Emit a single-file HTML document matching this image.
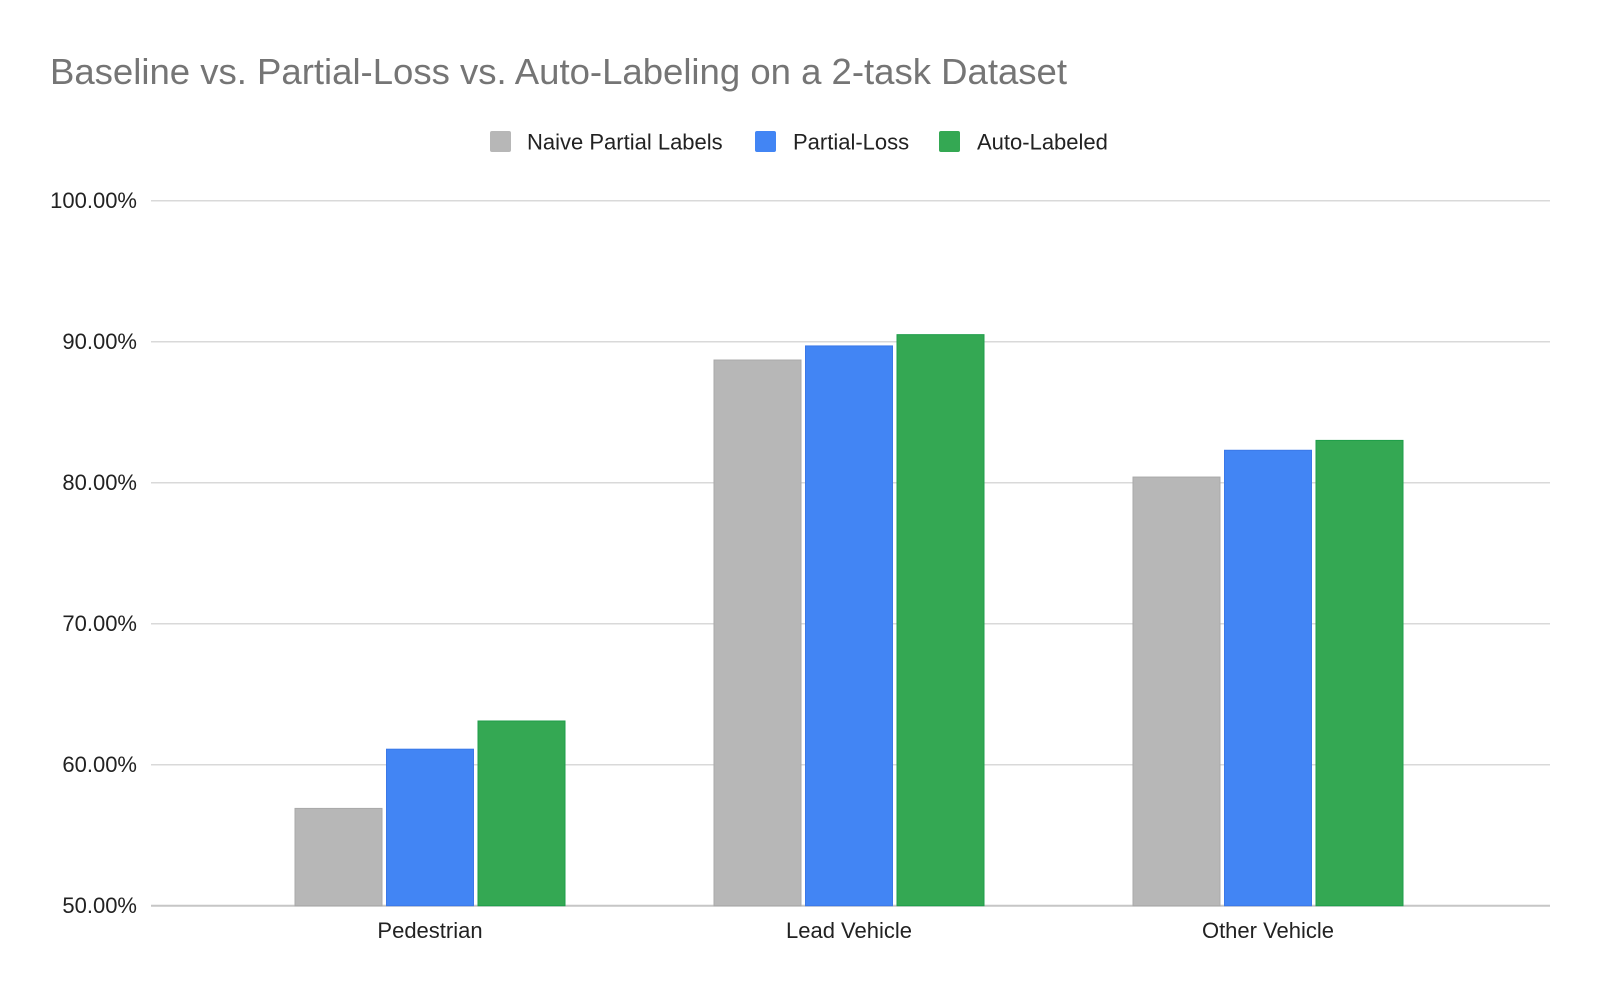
<!DOCTYPE html>
<html><head><meta charset="utf-8"><style>
html,body{margin:0;padding:0;background:#fff;width:1600px;height:993px;overflow:hidden}
svg text{font-family:"Liberation Sans",Arial,sans-serif}
</style></head><body>
<svg id="chart" width="1600" height="993" xmlns="http://www.w3.org/2000/svg">
<text x="50" y="84" font-size="36" textLength="1017" lengthAdjust="spacingAndGlyphs" fill="#757575">Baseline vs. Partial-Loss vs. Auto-Labeling on a 2-task Dataset</text>
<g id="legend"></g>
<g id="grid"></g>
<g id="bars"></g>
<g id="xlabels"></g>
</svg>
<script>
const categories = ["Pedestrian","Lead Vehicle","Other Vehicle"];
const seriesNames = ["Naive Partial Labels","Partial-Loss","Auto-Labeled"];
const naive = [56.9, 88.7, 80.4];
const partialLoss = [61.1, 89.7, 82.3];
const autoLabeled = [63.1, 90.5, 83.0];
const yTicks = [50,60,70,80,90,100];
const yTickLabels = ["50.00%","60.00%","70.00%","80.00%","90.00%","100.00%"];

const NS="http://www.w3.org/2000/svg";
const colors=["#b7b7b7","#4285f4","#34a853"];
const strokes=["#a9a9a9","#3b78e7","#1e9e4a"];
const series=[naive,partialLoss,autoLabeled];
const plotL=151, plotR=1550, yTop=200.7, yBot=905.7, vMin=50, vMax=100;
function y(v){return yBot-(v-vMin)/(vMax-vMin)*(yBot-yTop);}
function xCenter(i){return 430+419*i;}
const barW=87, pitch=91.5;
function mk(tag,attrs,parent){const e=document.createElementNS(NS,tag);for(const k in attrs)e.setAttribute(k,attrs[k]);parent.appendChild(e);return e;}

const grid=document.getElementById('grid');
yTicks.forEach((t,i)=>{
  const l=mk('line',{x1:plotL,x2:plotR,y1:y(t),y2:y(t),stroke:i===0?'#c6c6c6':'#d9d9d9','stroke-width':i===0?2:1.5},grid);
  
  
  const tx=mk('text',{x:137,y:y(t)+7.5,'text-anchor':'end','font-size':22,fill:'#222'},grid);
  tx.textContent=yTickLabels[i];
  
  
});

const bars=document.getElementById('bars');
categories.forEach((c,ci)=>{
  series.forEach((s,si)=>{
    const cx=xCenter(ci)+(si-1)*pitch;
    const r=mk('rect',{x:cx-barW/2,y:y(s[ci]),width:barW,height:yBot-y(s[ci]),fill:colors[si],stroke:strokes[si],'stroke-width':1},bars);
    
    
  });
  const t=mk('text',{x:xCenter(ci),y:938,'text-anchor':'middle','font-size':22,fill:'#222'},document.getElementById('xlabels'));
  t.textContent=c;
  
  
});

const legend=document.getElementById('legend');
const legX=[[490,527],[755,793],[939,977]];
seriesNames.forEach((n,i)=>{
  const r=mk('rect',{x:legX[i][0],y:131,width:21,height:21,rx:2,fill:colors[i]},legend);
  
  
  const t=mk('text',{x:legX[i][1],y:149.5,'font-size':22,fill:'#222'},legend);
  t.textContent=n;
  
  
});
</script>
</body></html>
